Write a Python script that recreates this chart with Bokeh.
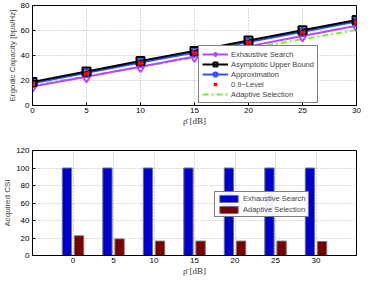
from bokeh.plotting import figure
from bokeh.layouts import column
from bokeh.models import ColumnDataSource, Range1d, Legend, LegendItem, FixedTicker
from bokeh.transform import dodge
from bokeh.embed import file_html
from bokeh.resources import INLINE

# ---- data ----
snr = [0, 5, 10, 15, 20, 25, 30]
exhaustive = [15.2, 23.0, 31.0, 39.2, 47.3, 55.6, 63.8]
upper_bound = [18.9, 27.2, 35.6, 43.7, 52.0, 60.2, 68.4]
approximation = [17.8, 26.1, 34.3, 42.4, 50.7, 58.9, 67.1]
level_09 = [17.3, 25.5, 33.7, 41.9, 50.1, 58.3, 66.5]
adaptive = [16.0, 23.4, 30.8, 38.2, 45.6, 53.0, 60.4]

snr_labels = ["0", "5", "10", "15", "20", "25", "30"]
csi_exhaustive = [100, 100, 100, 100, 100, 100, 100]
csi_adaptive = [22.5, 19.0, 16.5, 16.5, 16.5, 16.5, 16.0]

FONT = "Liberation Sans"
SERIF = "Liberation Serif"


def style(p):
    p.outline_line_color = "black"
    p.outline_line_width = 1
    for ax in (p.xaxis, p.yaxis):
        ax.axis_line_color = "black"
        ax.major_tick_in = 3
        ax.major_tick_out = 0
        ax.minor_tick_line_color = None
        ax.major_label_text_font = FONT
        ax.major_label_text_font_size = "8px"
        ax.major_label_text_color = "black"
        ax.axis_label_text_font_size = "8px"
        ax.axis_label_text_font_style = "normal"
    p.yaxis.axis_label_text_font = FONT
    p.yaxis.axis_label_standoff = 1
    p.yaxis.major_label_standoff = 3
    p.xaxis.axis_label_text_font = SERIF
    p.xaxis.axis_label_text_color = "#333333"
    p.xaxis.axis_label_text_font_size = "9px"
    p.xaxis.axis_label_standoff = 0
    p.xaxis.major_label_standoff = 2
    p.grid.grid_line_color = "#b0b0b0"
    p.grid.grid_line_dash = "1 2"
    p.background_fill_color = "white"
    p.border_fill_color = "white"


W = 362

# ---- top figure ----
p1 = figure(width=W, height=128, output_backend="svg", toolbar_location=None,
            x_range=Range1d(0, 30), y_range=Range1d(0, 80),
            min_border_left=27, min_border_right=6, min_border_top=5, min_border_bottom=22)
style(p1)
p1.xaxis.ticker = FixedTicker(ticks=snr)
p1.yaxis.ticker = FixedTicker(ticks=[0, 20, 40, 60, 80])
p1.xaxis.axis_label = "ρ̄ [dB]"
p1.yaxis.axis_label = "Ergodic Capacity [bps/Hz]"

src = ColumnDataSource(dict(snr=snr, ex=exhaustive, ub=upper_bound, ap=approximation,
                            lv=level_09, ad=adaptive))

purple = "#bb44ff"
blue = "#2e4dff"
green = "#77ee33"

l_ad = p1.line("snr", "ad", source=src, line_color=green, line_width=2, line_dash="6 3 2 3")
l_ex = p1.line("snr", "ex", source=src, line_color=purple, line_width=2)
m_ex = p1.scatter("snr", "ex", source=src, marker="diamond", size=11, fill_color=None,
                  line_color=purple, line_width=2)
l_ap = p1.line("snr", "ap", source=src, line_color=blue, line_width=2)
m_ap = p1.scatter("snr", "ap", source=src, marker="circle", size=8, fill_color=None,
                  line_color=blue, line_width=2)
l_ub = p1.line("snr", "ub", source=src, line_color="black", line_width=2)
m_ub = p1.scatter("snr", "ub", source=src, marker="square", size=8, fill_color=None,
                  line_color="black", line_width=2)
m_lv = p1.scatter("snr", "lv", source=src, marker="x", size=7, fill_color=None,
                  line_color="red", line_width=2)

leg1 = Legend(items=[
    LegendItem(label="Exhaustive Search", renderers=[l_ex, m_ex]),
    LegendItem(label="Asymptotic Upper Bound", renderers=[l_ub, m_ub]),
    LegendItem(label="Approximation", renderers=[l_ap, m_ap]),
    LegendItem(label="0.9\u2212Level", renderers=[m_lv]),
    LegendItem(label="Adaptive Selection", renderers=[l_ad]),
], location=(166, 2))
leg1.label_text_font = FONT
leg1.label_text_font_size = "7.5px"
leg1.glyph_width = 26
leg1.glyph_height = 10
leg1.label_height = 10
leg1.spacing = 0
leg1.padding = 3
leg1.margin = 0
leg1.label_standoff = 3
leg1.border_line_color = "black"
leg1.border_line_width = 1
leg1.background_fill_alpha = 1
p1.add_layout(leg1, "center")

# ---- bottom figure (group positions 1..7 on a 0..8 axis) ----
pos = [i + 1 for i in range(len(snr_labels))]
bsrc = ColumnDataSource(dict(pos=pos, ex=csi_exhaustive, ad=csi_adaptive))
p2 = figure(width=W, height=150, output_backend="svg", toolbar_location=None,
            x_range=Range1d(0, len(snr_labels) + 1), y_range=Range1d(0, 120),
            min_border_left=27, min_border_right=6, min_border_top=22, min_border_bottom=22)
style(p2)
p2.xaxis.ticker = FixedTicker(ticks=pos)
p2.xaxis.major_label_overrides = {p: lab for p, lab in zip(pos, snr_labels)}
p2.yaxis.ticker = FixedTicker(ticks=[0, 20, 40, 60, 80, 100, 120])
p2.xaxis.axis_label = "ρ̄ [dB]"
p2.yaxis.axis_label = "Acquired CSI"
p2.xaxis.major_tick_line_color = None

b_ex = p2.vbar(x=dodge("pos", -0.15), top="ex", width=0.23, source=bsrc,
               fill_color="#0000cc", line_color="#777777", line_width=1)
b_ad = p2.vbar(x=dodge("pos", 0.15), top="ad", width=0.23, source=bsrc,
               fill_color="#770000", line_color="#777777", line_width=1)

leg2 = Legend(items=[
    LegendItem(label="Exhaustive Search", renderers=[b_ex]),
    LegendItem(label="Adaptive Selection", renderers=[b_ad]),
], location=(182, 38))
leg2.label_text_font = FONT
leg2.label_text_font_size = "7.5px"
leg2.glyph_width = 23
leg2.glyph_height = 9
leg2.label_height = 9
leg2.spacing = 2
leg2.padding = 2
leg2.margin = 0
leg2.label_standoff = 3
leg2.border_line_color = "black"
leg2.border_line_width = 1
p2.add_layout(leg2, "center")

layout = column(p1, p2, spacing=0)
open("out.html", "w").write(file_html(layout, INLINE))
